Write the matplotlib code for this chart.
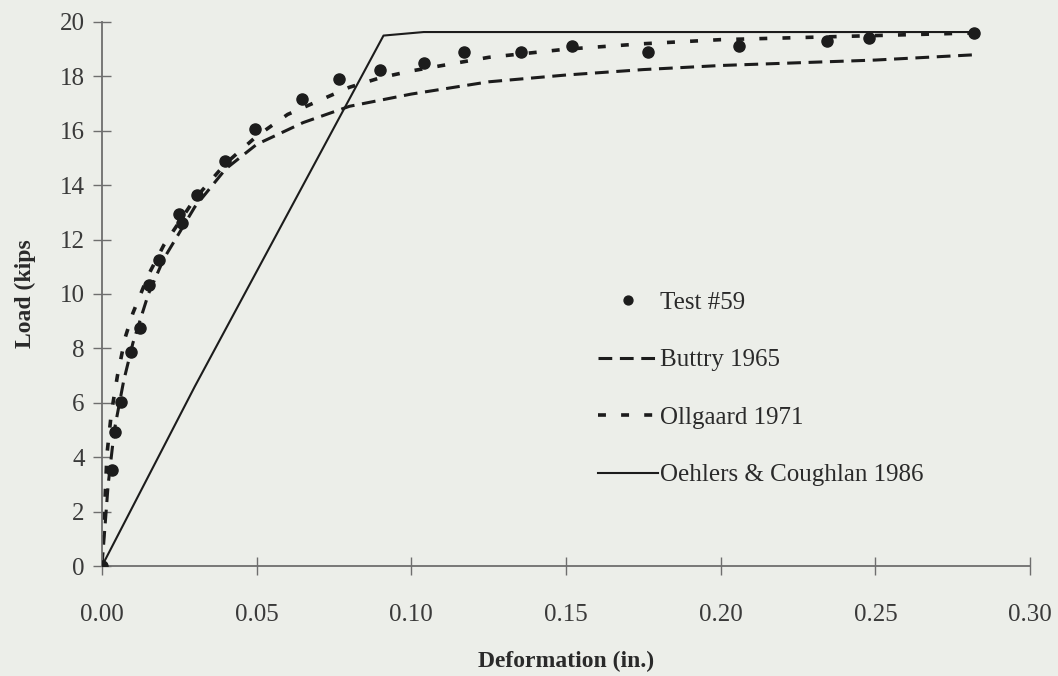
import matplotlib.pyplot as plt
import numpy as np

# measured load-slip, Test #59
test_defl = [0.0, 0.0032, 0.0042, 0.0061, 0.0094, 0.0123, 0.0153, 0.0184, 0.0250, 0.0258,
             0.0306, 0.0397, 0.0494, 0.0645, 0.0765, 0.0900, 0.1040, 0.1170, 0.1355, 0.1520,
             0.1765, 0.2060, 0.2345, 0.2480, 0.2820]
test_load = [0.0, 3.53, 4.93, 6.03, 7.87, 8.75, 10.33, 11.25, 12.95, 12.6,
             13.64, 14.9, 16.07, 17.15, 17.9, 18.25, 18.5, 18.9, 18.9, 19.1,
             18.9, 19.1, 19.3, 19.4, 19.6]

# Buttry 1965 prediction
buttry_defl = [0.0, 0.002, 0.004, 0.007, 0.010, 0.015, 0.020, 0.030, 0.040, 0.050,
               0.065, 0.080, 0.100, 0.125, 0.150, 0.175, 0.200, 0.225, 0.250, 0.283]
buttry_load = [0.0, 3.0, 5.0, 6.8, 8.2, 10.0, 11.3, 13.2, 14.6, 15.5,
               16.3, 16.9, 17.35, 17.8, 18.05, 18.25, 18.4, 18.5, 18.6, 18.8]

# Ollgaard 1971 prediction
ollg_defl = [0.0, 0.001, 0.0016, 0.003, 0.005, 0.0075, 0.010, 0.015, 0.020, 0.030,
             0.040, 0.050, 0.060, 0.070, 0.080, 0.090, 0.100, 0.125, 0.150, 0.175,
             0.200, 0.250, 0.283]
ollg_load = [0.0, 2.5, 4.1, 5.6, 7.0, 8.4, 9.3, 10.7, 11.8, 13.5,
             14.8, 15.8, 16.6, 17.1, 17.6, 17.95, 18.2, 18.7, 19.0, 19.2,
             19.35, 19.5, 19.6]

# Oehlers & Coughlan 1986 prediction
oehl_defl = [0.0, 0.030, 0.091, 0.104, 0.283]
oehl_load = [0.0, 6.6, 19.5, 19.63, 19.63]

xticks = [0.0, 0.05, 0.10, 0.15, 0.20, 0.25, 0.30]
yticks = list(range(0, 21, 2))

bg = "#eceee9"
ink = "#1c1c1c"
axis_col = "#6e6e6e"
plt.rcParams["font.family"] = ["Liberation Serif", "DejaVu Serif"]

fig = plt.figure(figsize=(10.58, 6.76), dpi=100, facecolor=bg)
ax = fig.add_axes([0.0964, 0.1627, 0.8772, 0.8048], facecolor=bg)

ax.plot(test_defl, test_load, linestyle="none", marker="o", ms=8,
        color=ink, label="Test #59", zorder=4)
ax.plot(buttry_defl, buttry_load, color=ink, lw=2.2, dashes=(4.5, 2.5),
        label="Buttry 1965")
ax.plot(ollg_defl, ollg_load, color=ink, lw=2.6, dashes=(2.2, 4.2),
        label="Ollgaard 1971")
ax.plot(oehl_defl, oehl_load, color=ink, lw=1.5, label="Oehlers & Coughlan 1986")

ax.set_xlim(0, 0.30)
ax.set_ylim(0, 20)
ax.set_xticks(xticks)
ax.set_xticklabels([f"{t:.2f}" for t in xticks])
ax.set_yticks(yticks)

for side in ("top", "right"):
    ax.spines[side].set_visible(False)
for side in ("left", "bottom"):
    ax.spines[side].set_color(axis_col)
    ax.spines[side].set_linewidth(1.3)
ax.tick_params(direction="inout", length=13, width=1.0, color=axis_col,
               labelsize=18, labelcolor="#3a3a3a")
ax.tick_params(axis="y", pad=6)
ax.tick_params(axis="x", pad=21)

ax.set_xlabel("Deformation (in.)", fontsize=17, fontweight="bold",
              color="#2a2a2a", labelpad=18)
ax.set_ylabel("Load (kips", fontsize=17, fontweight="bold",
              color="#2a2a2a", labelpad=17)

leg = ax.legend(loc="upper left", bbox_to_anchor=(0.534, 0.505), frameon=False,
                fontsize=18, handlelength=2.4, handletextpad=0.1,
                labelspacing=1.4, borderpad=0, borderaxespad=0, markerscale=0.8)
for t in leg.get_texts():
    t.set_color("#2a2a2a")

fig.savefig("out.png", dpi=100, facecolor=bg)
